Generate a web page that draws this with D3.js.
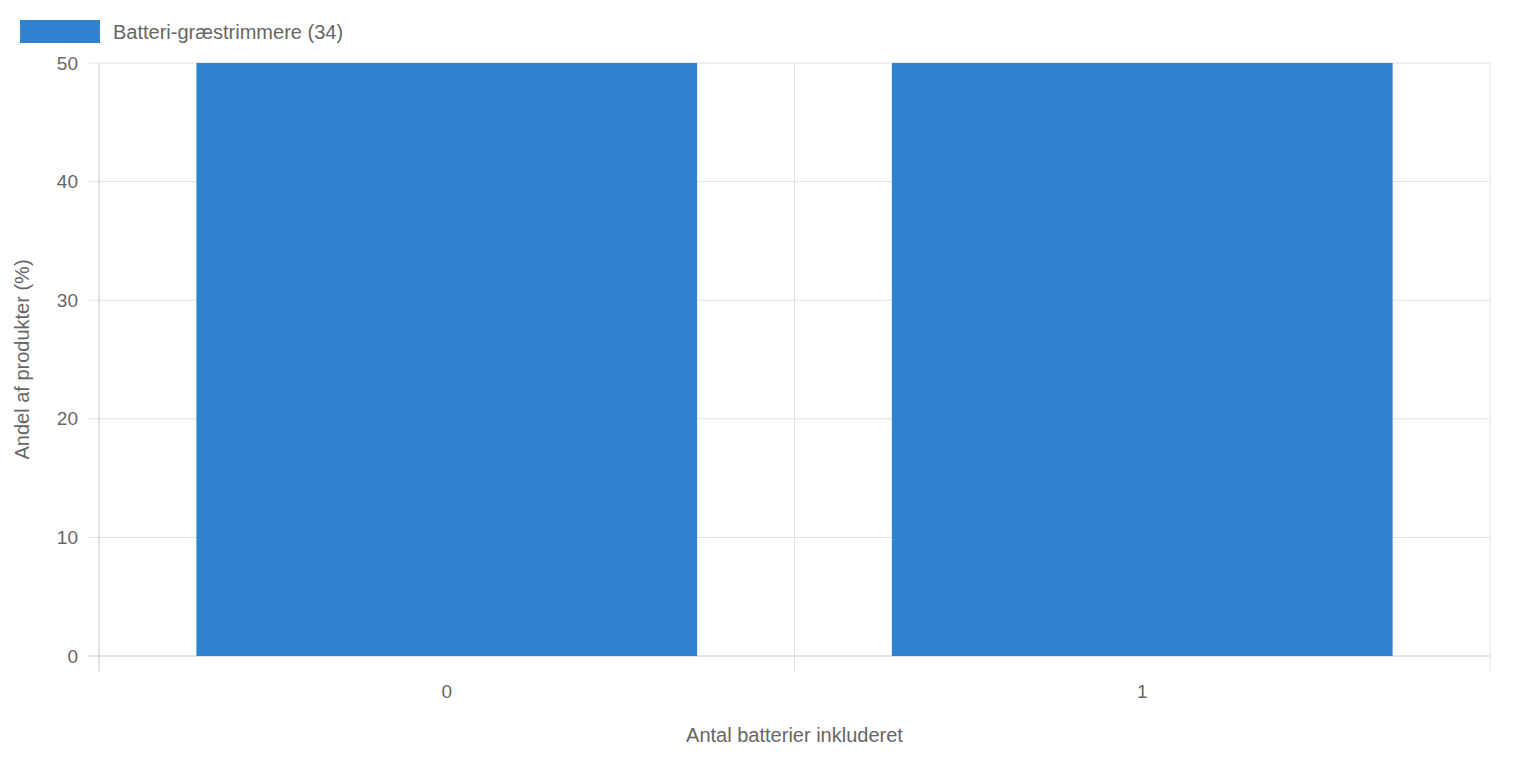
<!DOCTYPE html>
<html><head><meta charset="utf-8">
<script src="https://cdn.jsdelivr.net/npm/d3@7"></script>
<style>body{margin:0;background:#fff}svg{display:block;font-family:"Liberation Sans",Arial,sans-serif}</style>
</head><body><svg id="c" width="1518" height="758"></svg>
<script>
const categories = ["0","1"];
const values = [50, 50];
const seriesName = "Batteri-græstrimmere (34)";
const yTicks = [0,10,20,30,40,50];
const xTitle = "Antal batterier inkluderet";
const yTitle = "Andel af produkter (%)";

const svg = d3.select("#c");
const L=99,R=1490,T=63,B=656;
const x = d3.scaleBand().domain(categories).range([L,R]).paddingInner(0).paddingOuter(0);
const y = d3.scaleLinear().domain([0,50]).range([B,T]);
const grid="#e0e0e0", txt="#666", blue="#3182ce";

// horizontal grid
svg.selectAll(".hg").data(yTicks).join("line")
  .attr("x1",L-10).attr("x2",R).attr("y1",d=>y(d)).attr("y2",d=>y(d))
  .attr("stroke",d=>d===0?"#c8c8c8":grid).attr("stroke-width",1);
// vertical grid
const vx = [L, ...categories.slice(1).map(c=>x(c)), R];
svg.selectAll(".vg").data(vx).join("line")
  .attr("x1",d=>d).attr("x2",d=>d).attr("y1",T).attr("y2",B+16)
  .attr("stroke",(d,i)=>i===0?"#c8c8c8":grid).attr("stroke-width",1);
// bars
const bw = x.bandwidth()*0.72;
svg.selectAll(".bar").data(values).join("rect")
  .attr("x",(d,i)=>x(categories[i])+(x.bandwidth()-bw)/2).attr("width",bw)
  .attr("y",d=>y(d)).attr("height",d=>y(0)-y(d)).attr("fill",blue);
// y tick labels
svg.selectAll(".yt").data(yTicks).join("text")
  .attr("x",L-21).attr("y",d=>y(d)).attr("dy","0.35em").attr("text-anchor","end")
  .attr("fill",txt).attr("font-size",19).text(d=>d);
// x tick labels
svg.selectAll(".xt").data(categories).join("text")
  .attr("x",d=>x(d)+x.bandwidth()/2).attr("y",698).attr("text-anchor","middle")
  .attr("fill",txt).attr("font-size",19).text(d=>d);
// titles
svg.append("text").attr("x",(L+R)/2).attr("y",742).attr("text-anchor","middle")
  .attr("fill",txt).attr("font-size",20).text(xTitle);
svg.append("text").attr("transform",`translate(29,${(T+B)/2}) rotate(-90)`).attr("text-anchor","middle")
  .attr("fill",txt).attr("font-size",20).text(yTitle);
// legend
svg.append("rect").attr("x",20).attr("y",20).attr("width",80).attr("height",23).attr("fill",blue);
svg.append("text").attr("x",113).attr("y",32).attr("dy","0.35em").attr("fill",txt).attr("font-size",20).text(seriesName);
</script></body></html>
